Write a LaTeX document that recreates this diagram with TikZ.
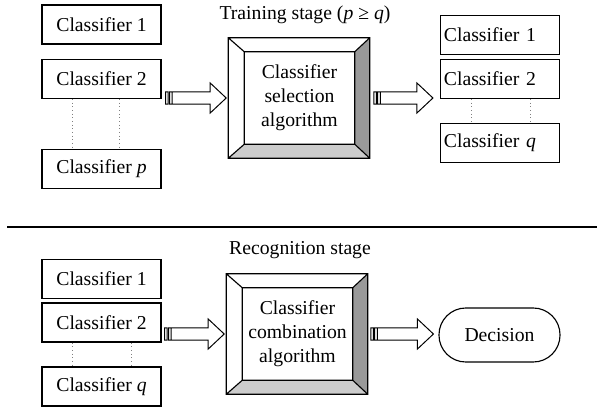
\documentclass[tikz,border=0pt]{standalone}
\usepackage{fontspec}
\setmainfont{Liberation Serif}
\usetikzlibrary{calc}

\tikzset{
    clf/.style={draw, line width=0.8pt, minimum width=2.975cm, minimum height=0.975cm, inner sep=0pt},
    clfleft/.style={clf, text width=2.8cm, inner xsep=0.0875cm, align=left},
    algo/.style={minimum width=2.75cm, minimum height=2.3cm, inner sep=0pt, align=center},
    dots/.style={dotted, gray, line width=0.6pt},
}

% beveled frame around an algorithm node
\newcommand{\bevelbox}[1]{%
    \coordinate (#1-a) at ($(#1.north west)+(-16,-14)$);
    \coordinate (#1-b) at ($(#1.north east)+(15,-14)$);
    \coordinate (#1-c) at ($(#1.south east)+(15,14)$);
    \coordinate (#1-d) at ($(#1.south west)+(-16,14)$);
    \fill[gray!80] (#1-b) -- (#1-c) -- (#1.south east) -- (#1.north east) -- cycle;
    \fill[gray!40] (#1-d) -- (#1-c) -- (#1.south east) -- (#1.south west) -- cycle;
    \draw[line width=0.8pt] (#1-a) rectangle (#1-c) (#1.north west) rectangle (#1.south east)
        (#1-a) -- (#1.north west) (#1-b) -- (#1.north east)
        (#1-c) -- (#1.south east) (#1-d) -- (#1.south west);
}

% hollow block arrow with striped tail
\newcommand{\hollowarrow}[2]{%
    \draw[line width=0.7pt] let \p1=(#1), \p2=(#2) in
        (\x1,\y1-4.3pt) rectangle (\x1+1.8pt,\y1+4.3pt)
        (\x1+2.8pt,\y1-4.3pt) rectangle (\x1+4.6pt,\y1+4.3pt)
        (\x1+4.6pt,\y1+4.3pt) -- (\x2-11.4pt,\y1+4.3pt) -- (\x2-11.4pt,\y1+10.7pt)
        -- (\x2,\y1) -- (\x2-11.4pt,\y1-10.7pt) -- (\x2-11.4pt,\y1-4.3pt)
        -- (\x1+4.6pt,\y1-4.3pt);
}

\begin{document}
\begin{tikzpicture}[x=0.025cm, y=-0.025cm, font=\fontsize{14}{17}\selectfont]

    \useasboundingbox (0,0) rectangle (597,407);

    % ---------------------------------------------------
    % Training stage
    % ---------------------------------------------------
    \node (train) at (305,15) {Training stage (\textit{p} ≥ \textit{q})};

    \node[clf] (t1) at (101.5,24.5) {Classifier 1};
    \node[clf] (t2) at (101.5,79) {Classifier 2};
    \node[clf] (tp) at (101.5,169) {Classifier \textit{p}};
    \draw[dots] ($(t2.south west)+(31,0)$) -- ($(tp.north west)+(31,0)$);
    \draw[dots] ($(t2.south west)+(78,0)$) -- ($(tp.north west)+(78,0)$);

    \node[algo] (sel) at (299.5,98) {Classifier\\selection\\algorithm};
    \bevelbox{sel}

    \node[clfleft] (r1) at (500,35) {Classifier 1};
    \node[clfleft] (r2) at (500,79) {Classifier 2};
    \node[clfleft] (rq) at (500,143) {Classifier \textit{q}};
    \draw[dots] ($(r2.south west)+(31,0)$) -- ($(rq.north west)+(31,0)$);
    \draw[dots] ($(r2.south west)+(90,0)$) -- ($(rq.north west)+(90,0)$);

    \hollowarrow{$(t2.east |- sel.center)+(4,0)$}{$(sel.west)+(-18,0)$}
    \hollowarrow{$(sel.east)+(19,0)$}{$(r2.west |- sel.center)+(-7,0)$}

    % separator
    \draw[line width=1.5pt] (7,227) -- (597,227);

    % ---------------------------------------------------
    % Recognition stage
    % ---------------------------------------------------
    \node (recog) at (300,250) {Recognition stage};

    \node[clf] (b1) at (101.5,279) {Classifier 1};
    \node[clf] (b2) at (101.5,322.5) {Classifier 2};
    \node[clf] (bq) at (101.5,386.5) {Classifier \textit{q}};
    \draw[dots] ($(b2.south west)+(31,0)$) -- ($(bq.north west)+(31,0)$);
    \draw[dots] ($(b2.south west)+(90,0)$) -- ($(bq.north west)+(90,0)$);

    \node[algo] (comb) at (297.5,334) {Classifier\\combination\\algorithm};
    \bevelbox{comb}

    \node[draw, line width=0.8pt, rounded corners=0.67cm, minimum width=3.025cm, minimum height=1.35cm] (dec) at (499.5,335) {Decision};

    \hollowarrow{$(b2.east |- comb.center)+(3,0)$}{$(comb.west)+(-18,0)$}
    \hollowarrow{$(comb.east)+(18,0)$}{$(dec.west)+(-5,0)$}

\end{tikzpicture}
\end{document}
